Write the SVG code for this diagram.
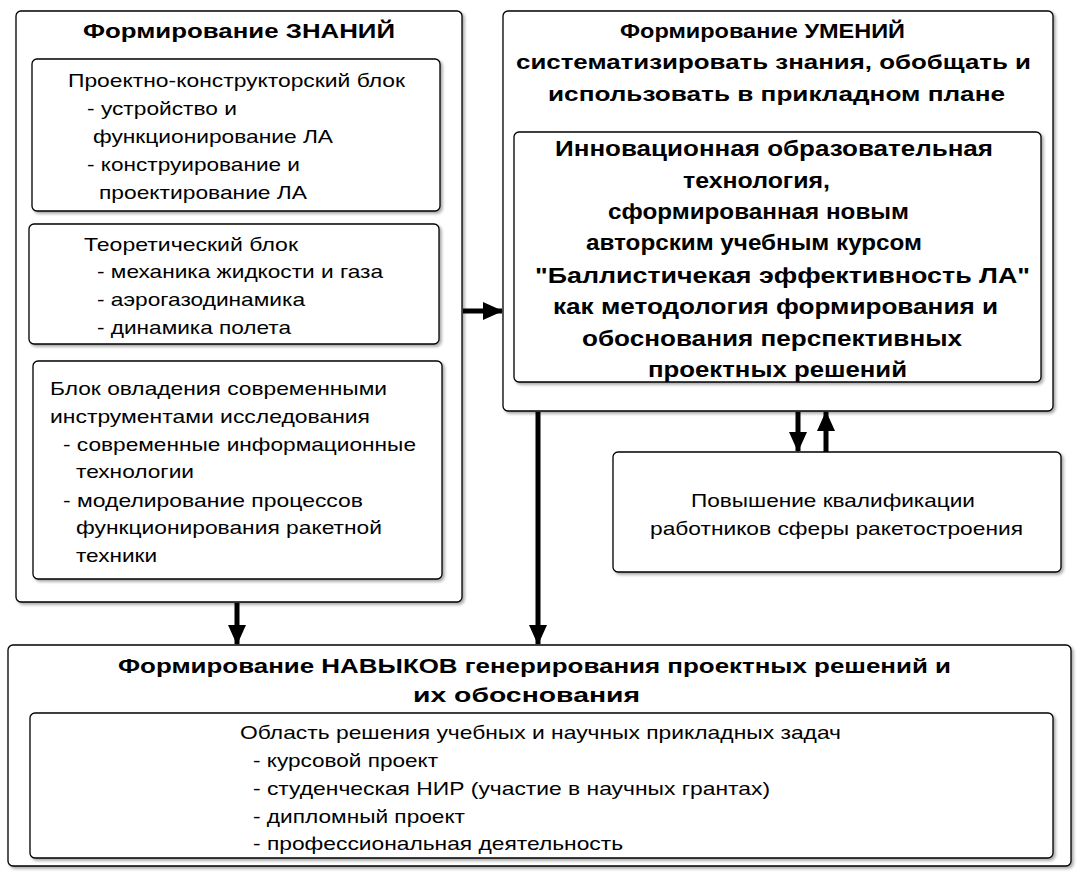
<svg xmlns="http://www.w3.org/2000/svg" width="1089" height="887" viewBox="0 0 1089 887">
<defs>
<filter id="sh" x="-5%" y="-5%" width="110%" height="110%">
<feDropShadow dx="2" dy="2" stdDeviation="1.5" flood-color="#000" flood-opacity="0.35"/>
</filter>
<marker id="ah" markerUnits="userSpaceOnUse" viewBox="0 0 20 18" refX="19" refY="9" markerWidth="20" markerHeight="18" orient="auto">
<path d="M0,0 L20,9 L0,18 Z" fill="#000"/>
</marker>
</defs>
<style>
.box{fill:#fff;stroke:#000;stroke-width:1.3;filter:url(#sh)}
.t{font-family:"Liberation Sans",Arial,sans-serif;font-size:19px;fill:#000}
.h{font-family:"Liberation Sans",Arial,sans-serif;font-size:21px;font-weight:bold;fill:#000}
.hi{font-family:"Liberation Sans",Arial,sans-serif;font-size:22.5px;font-weight:bold;fill:#000}
.c{fill:none;stroke:#000;stroke-width:5}
</style>
<rect width="1089" height="887" fill="#fff"/>

<g id="znaniy">
<rect class="box" x="16" y="11" width="446" height="591" rx="5"/>
<text class="h" x="83" y="38" textLength="312" lengthAdjust="spacingAndGlyphs">Формирование ЗНАНИЙ</text>
</g>

<g id="block-design">
<rect class="box" x="32" y="59" width="408" height="152" rx="5"/>
<text class="t" x="68" y="87" textLength="337" lengthAdjust="spacingAndGlyphs">Проектно-конструкторский блок</text>
<text class="t" x="87" y="115" textLength="150" lengthAdjust="spacingAndGlyphs">- устройство и</text>
<text class="t" x="93" y="143" textLength="240" lengthAdjust="spacingAndGlyphs">функционирование ЛА</text>
<text class="t" x="87" y="171" textLength="213" lengthAdjust="spacingAndGlyphs">- конструирование и</text>
<text class="t" x="99" y="199" textLength="208" lengthAdjust="spacingAndGlyphs">проектирование ЛА</text>
</g>

<g id="block-theory">
<rect class="box" x="29" y="224" width="410" height="120" rx="5"/>
<text class="t" x="84" y="251" textLength="214" lengthAdjust="spacingAndGlyphs">Теоретический блок</text>
<text class="t" x="97" y="278" textLength="286" lengthAdjust="spacingAndGlyphs">- механика жидкости и газа</text>
<text class="t" x="97" y="306" textLength="208" lengthAdjust="spacingAndGlyphs">- аэрогазодинамика</text>
<text class="t" x="97" y="334" textLength="194" lengthAdjust="spacingAndGlyphs">- динамика полета</text>
</g>

<g id="block-tools">
<rect class="box" x="33" y="361" width="409" height="218" rx="5"/>
<text class="t" x="50" y="395" textLength="337" lengthAdjust="spacingAndGlyphs">Блок овладения современными</text>
<text class="t" x="50" y="423" textLength="320" lengthAdjust="spacingAndGlyphs">инструментами исследования</text>
<text class="t" x="63" y="451" textLength="353" lengthAdjust="spacingAndGlyphs">- современные информационные</text>
<text class="t" x="76" y="478" textLength="118" lengthAdjust="spacingAndGlyphs">технологии</text>
<text class="t" x="63" y="507" textLength="300" lengthAdjust="spacingAndGlyphs">- моделирование процессов</text>
<text class="t" x="76" y="534" textLength="306" lengthAdjust="spacingAndGlyphs">функционирования ракетной</text>
<text class="t" x="76" y="562" textLength="81" lengthAdjust="spacingAndGlyphs">техники</text>
</g>

<g id="umeniy">
<rect class="box" x="503" y="11" width="550" height="400" rx="5"/>
<text class="h" x="620" y="38" textLength="285" lengthAdjust="spacingAndGlyphs">Формирование УМЕНИЙ</text>
<text class="h" x="516" y="69" textLength="515" lengthAdjust="spacingAndGlyphs">систематизировать знания, обобщать и</text>
<text class="h" x="548" y="101" textLength="457" lengthAdjust="spacingAndGlyphs">использовать в прикладном плане</text>
</g>

<g id="innovation">
<rect class="box" x="514" y="132" width="527" height="250" rx="5"/>
<text class="hi" x="555" y="156" textLength="438" lengthAdjust="spacingAndGlyphs">Инновационная образовательная</text>
<text class="hi" x="683" y="188" textLength="147" lengthAdjust="spacingAndGlyphs">технология,</text>
<text class="hi" x="608" y="219" textLength="301" lengthAdjust="spacingAndGlyphs">сформированная новым</text>
<text class="hi" x="586" y="250" textLength="336" lengthAdjust="spacingAndGlyphs">авторским учебным курсом</text>
<text class="hi" x="535" y="283" textLength="495" lengthAdjust="spacingAndGlyphs">"Баллистичекая эффективность ЛА"</text>
<text class="hi" x="553" y="314" textLength="445" lengthAdjust="spacingAndGlyphs">как методология формирования и</text>
<text class="hi" x="582" y="346" textLength="380" lengthAdjust="spacingAndGlyphs">обоснования перспективных</text>
<text class="hi" x="648" y="377" textLength="259" lengthAdjust="spacingAndGlyphs">проектных решений</text>
</g>

<g id="qualification">
<rect class="box" x="613" y="452" width="448" height="120" rx="5"/>
<text class="t" x="691" y="507" textLength="284" lengthAdjust="spacingAndGlyphs">Повышение квалификации</text>
<text class="t" x="650" y="535" textLength="373" lengthAdjust="spacingAndGlyphs">работников сферы ракетостроения</text>
</g>

<g id="navykov">
<rect class="box" x="8" y="645" width="1063" height="221" rx="5"/>
<text class="h" x="118" y="673" textLength="833" lengthAdjust="spacingAndGlyphs">Формирование НАВЫКОВ генерирования проектных решений и</text>
<text class="h" x="413" y="702" textLength="227" lengthAdjust="spacingAndGlyphs">их обоснования</text>
</g>

<g id="tasks">
<rect class="box" x="30" y="713" width="1023" height="145" rx="5"/>
<text class="t" x="240" y="739" textLength="601" lengthAdjust="spacingAndGlyphs">Область решения учебных и научных прикладных задач</text>
<text class="t" x="253" y="767" textLength="185" lengthAdjust="spacingAndGlyphs">- курсовой проект</text>
<text class="t" x="253" y="795" textLength="517" lengthAdjust="spacingAndGlyphs">- студенческая НИР (участие в научных грантах)</text>
<text class="t" x="253" y="823" textLength="212" lengthAdjust="spacingAndGlyphs">- дипломный проект</text>
<text class="t" x="253" y="850" textLength="370" lengthAdjust="spacingAndGlyphs">- профессиональная деятельность</text>
</g>

<g id="connectors">
<line class="c" x1="463" y1="311" x2="502" y2="311" marker-end="url(#ah)"/>
<line class="c" x1="798" y1="412" x2="798" y2="451" marker-end="url(#ah)"/>
<line class="c" x1="826" y1="452" x2="826" y2="412" marker-end="url(#ah)"/>
<line class="c" x1="237" y1="603" x2="237" y2="644" marker-end="url(#ah)"/>
<line class="c" x1="538" y1="412" x2="538" y2="644" marker-end="url(#ah)"/>
</g>
</svg>
